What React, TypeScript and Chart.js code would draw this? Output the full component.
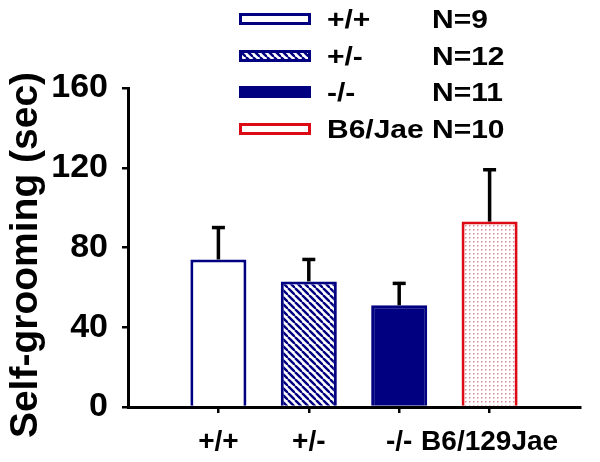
import React, { useEffect, useRef } from "react";
import { Chart, registerables } from "chart.js";
Chart.register(...registerables);

// ---- data ----
const categories = ["", "+/+", "+/-", "-/-", "B6/129Jae", ""];
const means: (number | null)[] = [null, 74, 63, 51, 93, null];
const sems: (number | null)[] = [null, 16, 11, 11, 26, null];
const legendLabels = ["+/+", "+/-", "-/-", "B6/Jae"];
const legendCounts = ["N=9", "N=12", "N=11", "N=10"];
const yMin = 0;
const yMax = 160;
const yStep = 40;
const yTitle = "Self-grooming (sec)";

const NAVY = "#000080";
const RED = "#dc0a14";
const FONT = '"Liberation Sans", Arial, sans-serif';

function makeHatch(): CanvasPattern | string {
  const c = document.createElement("canvas");
  c.width = 7;
  c.height = 7;
  const g = c.getContext("2d");
  if (!g) return NAVY;
  g.fillStyle = "#ffffff";
  g.fillRect(0, 0, 7, 7);
  g.strokeStyle = NAVY;
  g.lineWidth = 2.4;
  for (const off of [-7, 0, 7]) {
    g.beginPath();
    g.moveTo(off, 0);
    g.lineTo(off + 7, 7);
    g.stroke();
  }
  return g.createPattern(c, "repeat") || NAVY;
}

function makeDots(): CanvasPattern | string {
  const c = document.createElement("canvas");
  c.width = 4;
  c.height = 4;
  const g = c.getContext("2d");
  if (!g) return "#fff";
  g.fillStyle = "#ffffff";
  g.fillRect(0, 0, 4, 4);
  g.fillStyle = "#d98896";
  g.fillRect(1, 1, 1.5, 1.5);
  return g.createPattern(c, "repeat") || "#fff";
}

export default function App() {
  const ref = useRef<HTMLCanvasElement | null>(null);

  useEffect(() => {
    const canvas = ref.current;
    if (!canvas) return;
    const hatch = makeHatch();
    const dots = makeDots();

    const fills = ["#ffffff", "#ffffff", hatch, NAVY, dots, "#ffffff"];
    const borders = [NAVY, NAVY, NAVY, NAVY, RED, RED];
    const legendFills = ["#ffffff", hatch, NAVY, "#ffffff"];
    const legendBorders = [NAVY, NAVY, NAVY, RED];

    const errorBars = {
      id: "errorBars",
      afterDatasetsDraw(chart: any) {
        const ctx = chart.ctx;
        const meta = chart.getDatasetMeta(0);
        const ys = chart.scales.y;
        ctx.save();
        ctx.strokeStyle = "#000";
        ctx.lineWidth = 3.5;
        ctx.lineCap = "butt";
        means.forEach((m, i) => {
          const s = sems[i];
          if (m == null || s == null) return;
          const x = meta.data[i].x;
          const y0 = ys.getPixelForValue(m);
          const y1 = ys.getPixelForValue(m + s);
          ctx.beginPath();
          ctx.moveTo(x, y0);
          ctx.lineTo(x, y1);
          ctx.stroke();
          ctx.beginPath();
          ctx.moveTo(x - 6.5, y1);
          ctx.lineTo(x + 6.5, y1);
          ctx.stroke();
        });
        ctx.restore();
      },
    };

    const customText = {
      id: "customText",
      afterDraw(chart: any) {
        const ctx = chart.ctx;
        ctx.save();
        // y-axis title
        ctx.translate(18, 247);
        ctx.rotate(-Math.PI / 2);
        ctx.font = `bold 39px ${FONT}`;
        ctx.fillStyle = "#000";
        ctx.textAlign = "center";
        ctx.textBaseline = "middle";
        ctx.fillText(yTitle, 0, 0);
        ctx.restore();

        // legend
        const rowY = [11, 48, 84, 121];
        legendLabels.forEach((lab, i) => {
          const cy = rowY[i];
          ctx.save();
          ctx.fillStyle = legendFills[i];
          ctx.strokeStyle = legendBorders[i];
          ctx.lineWidth = 3;
          ctx.beginPath();
          ctx.rect(232.5, cy - 4.5, 69, 9);
          ctx.fill();
          ctx.stroke();
          ctx.restore();

          ctx.save();
          ctx.fillStyle = "#000";
          ctx.font = `bold 25px ${FONT}`;
          ctx.textAlign = "left";
          ctx.textBaseline = "middle";
          ctx.translate(319, cy + 2);
          ctx.scale(1.2, 1);
          ctx.fillText(lab, 0, 0);
          ctx.restore();

          ctx.save();
          ctx.fillStyle = "#000";
          ctx.font = `bold 25px ${FONT}`;
          ctx.textAlign = "left";
          ctx.textBaseline = "middle";
          ctx.translate(424, cy + 2);
          ctx.scale(1.2, 1);
          ctx.fillText(legendCounts[i], 0, 0);
          ctx.restore();
        });
      },
    };

    const chart = new Chart(canvas, {
      type: "bar",
      data: {
        labels: categories,
        datasets: [
          {
            data: means as any,
            backgroundColor: fills as any,
            borderColor: borders,
            borderWidth: 3,
            barPercentage: 0.62,
            categoryPercentage: 1,
          },
        ],
      },
      options: {
        responsive: false,
        animation: false,
        devicePixelRatio: 1,
        layout: { padding: { top: 80, right: 3, left: 0, bottom: 0 } },
        plugins: {
          legend: { display: false },
          tooltip: { enabled: false },
          title: { display: false },
        },
        scales: {
          x: {
            type: "category",
            offset: false,
            z: 1,
            grid: {
              offset: false,
              drawOnChartArea: false,
              drawTicks: true,
              tickLength: 6,
              lineWidth: 2.5,
              color: (c: any) =>
                c.index === 0 || c.index === categories.length - 1
                  ? "rgba(0,0,0,0)"
                  : "#000",
            },
            border: { display: true, color: "#000", width: 3 },
            ticks: {
              color: "#000",
              font: { family: FONT, size: 28, weight: "bold" },
              padding: 12,
              maxRotation: 0,
              autoSkip: false,
            },
            afterFit(scale: any) {
              scale.height = 47;
            },
          },
          y: {
            min: yMin,
            max: yMax,
            z: 1,
            grid: {
              drawOnChartArea: false,
              drawTicks: true,
              tickLength: 6,
              lineWidth: 2.5,
              color: "#000",
            },
            border: { display: true, color: "#000", width: 3 },
            ticks: {
              stepSize: yStep,
              color: "#000",
              font: { family: FONT, size: 34, weight: "bold" },
              padding: 14,
            },
            afterFit(scale: any) {
              scale.width = 120;
            },
          },
        },
      },
      plugins: [errorBars, customText],
    });
    return () => chart.destroy();
  }, []);

  return (
    <div style={{ width: 584, height: 446 }}>
      <canvas ref={ref} width={584} height={446} style={{ display: "block" }} />
    </div>
  );
}
